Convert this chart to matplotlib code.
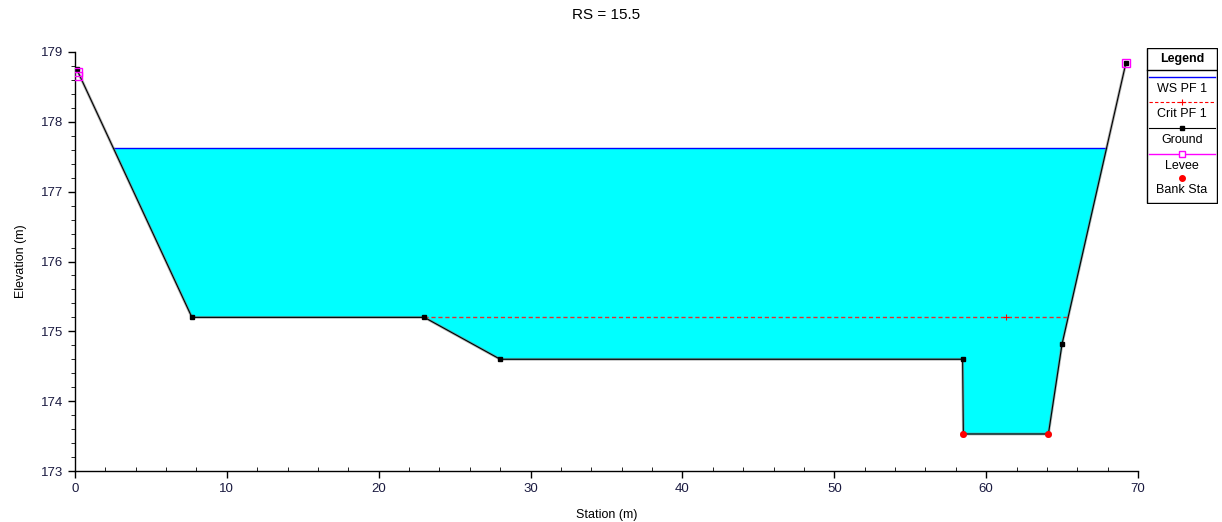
import matplotlib
matplotlib.use("Agg")
import matplotlib.pyplot as plt
import numpy as np
from matplotlib.ticker import MultipleLocator

plt.rcParams['font.family'] = ['Liberation Sans', 'DejaVu Sans']

# Data
title = "RS = 15.5"
ground_station = [0.1, 7.7, 23.0, 28.0, 58.45, 58.5, 64.1, 65.0, 69.2]
ground_elev = [178.76, 175.2, 175.2, 174.6, 174.6, 173.53, 173.53, 174.82, 178.84]
ws_elev = 177.62
crit_elev = 175.2
crit_start = 23.0
crit_marker_station = 61.3
levee_station = [0.2, 0.2, 69.2]
levee_elev = [178.72, 178.66, 178.84]
bank_station = [58.5, 64.1]
bank_elev = [173.53, 173.53]
xlabel = "Station (m)"
ylabel = "Elevation (m)"
legend_labels = ["WS PF 1", "Crit PF 1", "Ground", "Levee", "Bank Sta"]

W, H = 1222, 522
fig = plt.figure(figsize=(W/100, H/100), dpi=100)
ax = fig.add_axes([75/W, 1-471/H, (1138-75)/W, (471-52)/H])

gx = np.array(ground_station)
gy = np.array(ground_elev)

# water surface fill: intersect ground with WS
xs = np.linspace(gx[0], gx[-1], 20001)
ys = np.interp(xs, gx, gy)
wet = ys < ws_elev
ax.fill_between(xs, ys, ws_elev, where=wet, color='#00ffff', linewidth=0, zorder=1)
idx = np.where(wet)[0]
ax.plot([xs[idx[0]], xs[idx[-1]]], [ws_elev, ws_elev], color='#0000ff', lw=1.0, zorder=2)

# critical line
crit_mask = (xs >= crit_start) & (ys <= crit_elev + 1e-9)
cidx = np.where(crit_mask)[0]
ax.plot([xs[cidx[0]], xs[cidx[-1]]], [crit_elev, crit_elev], color='#e03030', lw=1.0,
        ls=(0, (3, 2)), zorder=3)
ax.plot([crit_marker_station], [crit_elev], marker='+', color='#ff0000', ms=5, mew=0.8, zorder=3)

# ground
ax.plot(gx, gy, color='#808080', lw=2.0, zorder=3, alpha=0.6)
ax.plot(gx, gy, color='black', lw=0.8, zorder=4)
ax.plot(gx, gy, ls='none', marker='s', color='black', ms=3.5, zorder=5)

# levee
ax.plot(levee_station, levee_elev, ls='none', marker='s', mfc='none', mec='#ff00ff', ms=6, mew=1.0, zorder=6)
# bank stations
ax.plot(bank_station, bank_elev, ls='none', marker='o', color='#ff0000', ms=4, zorder=6)

ax.set_xlim(0, 70)
ax.set_ylim(173, 179)
ax.xaxis.set_major_locator(MultipleLocator(10))
ax.xaxis.set_minor_locator(MultipleLocator(2))
ax.yaxis.set_major_locator(MultipleLocator(1))
ax.yaxis.set_minor_locator(MultipleLocator(0.2))
for s in ['top', 'right']:
    ax.spines[s].set_visible(False)
for s in ['left', 'bottom']:
    ax.spines[s].set_linewidth(1.0)
ax.tick_params(axis='both', which='major', length=5, width=1, labelsize=9.5, colors='black',
               labelcolor='#1a1a40')
ax.tick_params(axis='x', which='minor', direction='in', length=3)
ax.tick_params(axis='y', which='minor', direction='out', length=3)
ax.set_xlabel(xlabel, fontsize=9, labelpad=10)
ax.set_ylabel(ylabel, fontsize=9, labelpad=10)
fig.text((75+1138)/2/W, 1-15/H, title, ha='center', va='center', fontsize=11)

# custom legend box (pixel coordinates)
lx0, lx1, ly0, ly1 = 1146, 1218, 48, 204
lax = fig.add_axes([lx0/W, 1-ly1/H, (lx1-lx0)/W, (ly1-ly0)/H])
lax.set_xlim(lx0, lx1)
lax.set_ylim(ly1, ly0)
lax.axis('off')
lax.add_patch(plt.Rectangle((lx0+0.5, ly0+0.5), lx1-lx0-1.5, ly1-ly0-1.5, fill=False, ec='black', lw=1.0))
lax.plot([lx0+1, lx1-1], [70, 70], color='black', lw=1.0)
lax.text((lx0+lx1)/2, 59, "Legend", ha='center', va='center', fontsize=9, fontweight='bold')
cx = (lx0+lx1)/2
sx0, sx1 = lx0+3, lx1-3
# WS
lax.plot([sx0, sx1], [77, 77], color='#0000ff', lw=1.0)
lax.text(cx, 89, legend_labels[0], ha='center', va='center', fontsize=9)
# Crit
lax.plot([sx0, sx1], [102, 102], color='#ff0000', lw=0.8, ls=(0, (3, 2)))
lax.plot([cx], [102], marker='+', color='#ff0000', ms=5, mew=0.8)
lax.text(cx, 114, legend_labels[1], ha='center', va='center', fontsize=9)
# Ground
lax.plot([sx0, sx1], [128, 128], color='black', lw=0.8)
lax.plot([cx], [128], marker='s', color='black', ms=3.5)
lax.text(cx, 140, legend_labels[2], ha='center', va='center', fontsize=9)
# Levee
lax.plot([sx0, sx1], [154, 154], color='#ff00ff', lw=1.0)
lax.plot([cx], [154], marker='s', mfc='white', mec='#ff00ff', ms=5, mew=1.0)
lax.text(cx, 166, legend_labels[3], ha='center', va='center', fontsize=9)
# Bank Sta
lax.plot([cx], [178], marker='o', color='#ff0000', ms=4)
lax.text(cx, 190, legend_labels[4], ha='center', va='center', fontsize=9)

fig.savefig("out.png", dpi=100)
